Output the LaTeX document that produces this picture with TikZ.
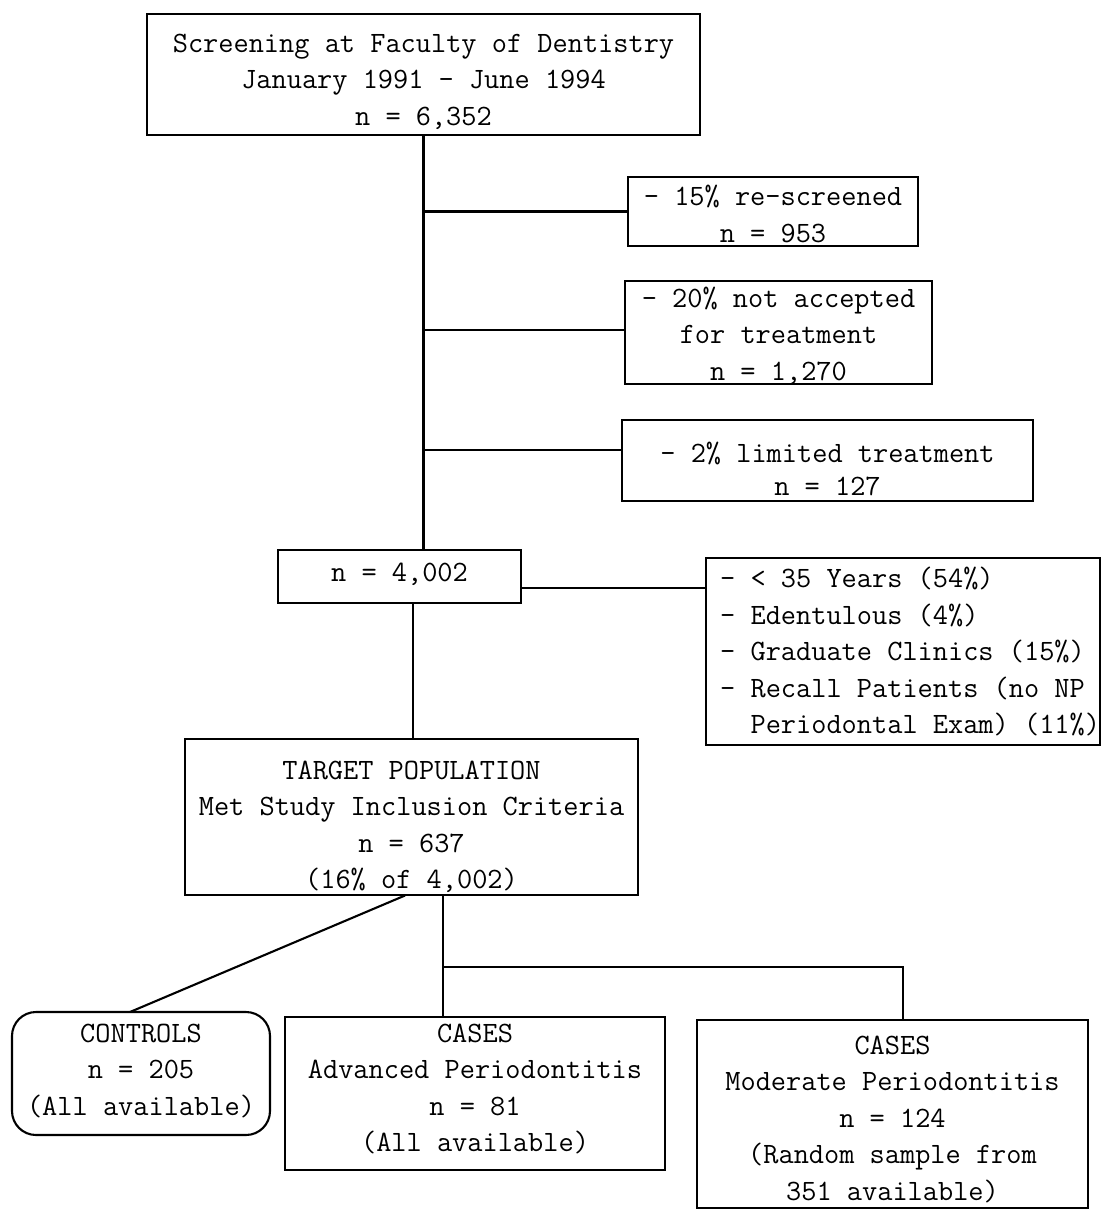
\documentclass[tikz,border=0pt]{standalone}
\usepackage{fontspec}
\begin{document}
\begin{tikzpicture}[x=1pt,y=-1pt,
  box/.style={draw, line width=2.1pt, inner sep=0pt},
  txt/.style={inner sep=0pt, align=center,
    font=\ttfamily\fontsize{29.5}{36.5}\selectfont},
  conn/.style={line width=2.1pt}]
\useasboundingbox (0,0) rectangle (1102,1210);
% boxes
\node[box, minimum width=553pt, minimum height=121pt] (top) at (423.5,74.5) {};
\node[box, minimum width=290pt, minimum height=69pt] (r1) at (773,211.5) {};
\node[box, minimum width=307pt, minimum height=103pt] (r2) at (778.5,332.5) {};
\node[box, minimum width=411pt, minimum height=81pt] (r3) at (827.5,460.5) {};
\node[box, minimum width=243pt, minimum height=53pt] (n4) at (399.5,576.5) {};
\node[box, minimum width=394pt, minimum height=187pt] (list) at (903,651.5) {};
\node[box, minimum width=453pt, minimum height=156pt] (target) at (411.5,817) {};
\node[box, rounded corners=24pt, minimum width=258pt, minimum height=123pt] (controls) at (141,1073.5) {};
\node[box, minimum width=380pt, minimum height=153pt] (adv) at (475,1093.5) {};
\node[box, minimum width=391pt, minimum height=188pt] (mod) at (892.5,1114) {};
% texts
\node[txt] (topT) at (423.5,81.5)
  {Screening at Faculty of Dentistry\\January 1991 - June 1994\\n = 6,352};
\node[txt] (r1T) at (773,214) {- 15\% re-screened\\n = 953};
\node[txt] (r2T) at (778.5,335.5) {- 20\% not accepted\\for treatment\\n = 1,270};
\node[txt, font=\ttfamily\fontsize{29.5}{33}\selectfont] (r3T) at (827.5,468.5)
  {- 2\% limited treatment\\n = 127};
\node[txt] (n4T) at (399.5,574.5) {n = 4,002};
\node[txt, align=left, anchor=west] (listT) at (720,651.5)
  {- < 35 Years (54\%)\\- Edentulous (4\%)\\- Graduate Clinics (15\%)\\- Recall Patients (no NP\\\phantom{-~}Periodontal Exam) (11\%)};
\node[txt] (targetT) at (411.5,827)
  {TARGET POPULATION\\Met Study Inclusion Criteria\\n = 637\\(16\% of 4,002)};
\node[txt] (controlsT) at (141,1071) {CONTROLS\\n = 205\\(All available)};
\node[txt] (advT) at (475,1089)
  {CASES\\Advanced Periodontitis\\n = 81\\(All available)};
\node[txt] (modT) at (892.5,1119)
  {CASES\\Moderate Periodontitis\\n = 124\\(Random sample from\\351 available)};
% connectors
\draw[conn] (top.south) -- (top.south |- n4.north);
\draw[conn] (r1.west -| top.south) -- (r1.west);
\coordinate (b2) at (423.5,330);
\draw[conn] (b2) -- (b2 -| r2.west);
\coordinate (b3) at (423.5,450);
\draw[conn] (b3) -- (b3 -| r3.west);
\coordinate (b4) at (521,588);
\draw[conn] (b4) -- (b4 -| list.west);
\coordinate (b5) at (413,603);
\draw[conn] (b5) -- (b5 |- target.north);
\coordinate (b6) at (405,895.5);
\coordinate (b7) at (130,1012);
\draw[conn] (b6) -- (b7);
\coordinate (b8) at (443,895.5);
\draw[conn] (b8) -- (b8 |- adv.north);
\coordinate (b9) at (443,967);
\coordinate (b10) at (903,967);
\draw[conn] (b9) -- (b10) -- (b10 |- mod.north);
\end{tikzpicture}
\end{document}
